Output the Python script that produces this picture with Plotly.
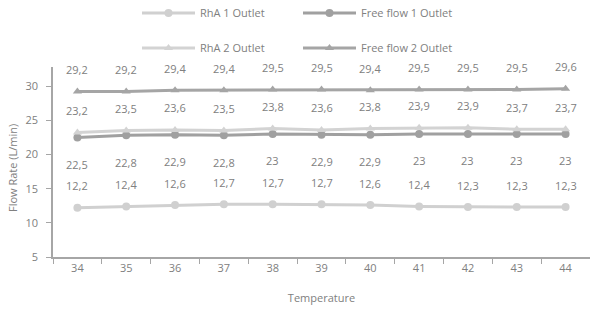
import plotly.graph_objects as go

temperature = [34, 35, 36, 37, 38, 39, 40, 41, 42, 43, 44]
rha1 = [12.2, 12.4, 12.6, 12.7, 12.7, 12.7, 12.6, 12.4, 12.3, 12.3, 12.3]
free1 = [22.5, 22.8, 22.9, 22.8, 23, 22.9, 22.9, 23, 23, 23, 23]
rha2 = [23.2, 23.5, 23.6, 23.5, 23.8, 23.6, 23.8, 23.9, 23.9, 23.7, 23.7]
free2 = [29.2, 29.2, 29.4, 29.4, 29.5, 29.5, 29.4, 29.5, 29.5, 29.5, 29.6]
y_ticks = [5, 10, 15, 20, 25, 30]

FONT = "Open Sans"
TXT = "#808080"

series = [
    ("RhA 1 Outlet", rha1, "#d0d0d0", "circle", "legend", 22),
    ("Free flow 1 Outlet", free1, "#a0a0a0", "circle", "legend", -27),
    ("RhA 2 Outlet", rha2, "#d3d3d3", "triangle-up", "legend2", 22),
    ("Free flow 2 Outlet", free2, "#a5a5a5", "triangle-up", "legend2", 22),
]

W, H = 590, 309
ML, MR, MT, MB = 53, 0, 67, 52
PH = H - MT - MB
PW = W - ML - MR

xcat = [str(t) for t in temperature]
fig = go.Figure()
annotations = []
for name, vals, color, sym, leg, shift in series:
    fig.add_trace(go.Scatter(
        x=xcat, y=vals, name=name, mode="lines+markers",
        line=dict(color=color, width=3),
        marker=dict(symbol=sym, size=8, color=color),
        legend=leg,
    ))
    for i, yv in enumerate(vals):
        annotations.append(dict(
            x=i, y=yv, xref="x", yref="y", text=f"{yv:g}".replace(".", ","),
            showarrow=False, yshift=shift,
            font=dict(family=FONT, size=11, color=TXT),
        ))

# y axis title
annotations.append(dict(
    x=(12 - ML) / PW, y=(H - MB - 168) / PH, xref="paper", yref="paper",
    text="Flow Rate (L/min)", showarrow=False, textangle=-90,
    xanchor="center", yanchor="middle",
    font=dict(family=FONT, size=11, color=TXT),
))

leg_common = dict(orientation="h", x=(137 - ML) / PW, xanchor="left", yanchor="middle",
                  yref="paper", xref="paper",
                  entrywidth=93, entrywidthmode="pixels", itemwidth=53,
                  font=dict(family=FONT, size=11, color=TXT), bgcolor="rgba(0,0,0,0)")

fig.update_layout(
    width=W, height=H,
    margin=dict(l=ML, r=MR, t=MT, b=MB, autoexpand=False),
    paper_bgcolor="white", plot_bgcolor="white",
    font=dict(family=FONT, size=11, color=TXT),
    annotations=annotations,
    legend=dict(leg_common, y=(H - MB - 13) / PH),
    legend2=dict(leg_common, y=(H - MB - 48) / PH),
    xaxis=dict(
        type="category", categoryorder="array", categoryarray=xcat,
        range=[-0.5, len(xcat) - 0.5],
        showgrid=False, showline=True, linecolor="#a6a6a6", linewidth=1.5,
        ticks="outside", tickson="boundaries", ticklen=5, tickcolor="#a6a6a6",
        tickangle=0, automargin=False,
        title=dict(text="Temperature", font=dict(family=FONT, size=11, color=TXT), standoff=20),
        tickfont=dict(family=FONT, size=11, color=TXT),
    ),
    yaxis=dict(
        range=[5, 32.8], tickvals=y_ticks, showgrid=False, zeroline=False,
        showline=True, linecolor="#a6a6a6", linewidth=1.5,
        ticks="outside", ticklen=5, tickcolor="#a6a6a6", automargin=False,
        ticklabelstandoff=6,
        tickfont=dict(family=FONT, size=11, color=TXT),
    ),
)

fig.write_html("out.html", config={"displayModeBar": False},
               post_script="document.body.style.margin='0';")
